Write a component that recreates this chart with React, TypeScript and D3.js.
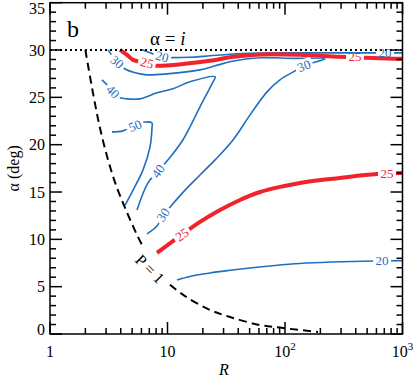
import React from 'react';
import * as d3 from 'd3';

type Pt = [number, number];

// axis ticks
const xMajor = [1, 10, 100, 1000];
const xLabels = [
  { v: 1, base: '1', exp: '' },
  { v: 10, base: '10', exp: '' },
  { v: 100, base: '10', exp: '2' },
  { v: 1000, base: '10', exp: '3' },
];
const yMajor = [0, 5, 10, 15, 20, 25, 30, 35];

// P = 1 curve (dashed), split where the label sits
const pUpper: Pt[] = [[2, 30], [2.32, 25.48], [2.66, 21.78], [3.12, 18.39], [3.64, 15.75], [4.43, 13.1], [5.5, 10.47], [6.19, 9.2]];
const pLower: Pt[] = [[10.5, 5.2], [14.1, 4.0], [23, 2.54], [34, 1.8], [61, 0.95], [96, 0.63], [191, 0.21]];

// contours [R, alpha]
const c20low: Pt[] = [[12.05, 5.71], [15.5, 6.08], [23, 6.45], [34, 6.73], [50.4, 6.98], [82.2, 7.24], [134, 7.45], [256, 7.61], [561, 7.72], [1000, 7.75]];
const c25low: Pt[] = [[8.14, 8.56], [12.8, 10.36], [18.9, 11.84], [28, 13.1], [41.4, 14.16], [61.3, 15.0], [90.6, 15.54], [134, 15.96], [294, 16.49], [607, 16.9], [1000, 17.0]];
const c20up: Pt[] = [[6.07, 30.02], [7.1, 29.7], [8.6, 29.35], [10.9, 29.2], [15.5, 29.23], [23, 29.39], [34, 29.55], [50, 29.65], [134, 29.7], [324, 29.7], [1000, 29.7]];
const c25up: Pt[] = [[3.94, 30.02], [4.52, 29.49], [5.09, 28.96], [6.56, 28.65], [8.14, 28.33], [14.1, 28.54], [23, 28.86], [34, 29.23], [50, 29.44], [74.5, 29.55], [134, 29.49], [294, 29.28], [480, 29.18], [1000, 29.07]];
const c30: Pt[] = [[3.12, 30.02], [3.44, 29.28], [3.72, 28.75], [4.35, 28.0], [5.29, 27.6], [6.69, 27.38], [9.9, 27.48], [18.9, 27.9], [25.4, 28.33], [37.5, 28.86], [61.3, 29.18], [117, 29.12], [219, 29.07], [173, 28.65], [142, 28.33], [126, 27.9], [90.6, 26.85], [70.3, 25.58], [50.4, 23.15], [36.1, 20.5], [25.4, 18.4], [18.9, 16.8], [14.1, 15.2], [10.5, 13.4], [9.15, 12.5], [8.14, 11.4], [6.69, 10.57]];
const c40: Pt[] = [[2.77, 26.85], [3.06, 26.32], [3.44, 25.6], [3.79, 25.05], [4.52, 24.84], [5.83, 24.84], [8.14, 25.48], [11.1, 25.9], [15.5, 26.64], [25.4, 27.17], [23.9, 26.43], [18.9, 24.0], [13.5, 20.5], [10.1, 18.4], [8.3, 17.2], [6.82, 15.96], [5.5, 13.1]];
const c50: Pt[] = [[3.37, 21.35], [4.18, 21.46], [5.29, 22.1], [6.44, 22.4], [7.38, 22.3], [7.38, 21.78], [7.1, 19.77], [6.19, 17.34], [5.09, 15.2], [4.35, 13.6]];

// contour labels: position, angle
const lab20low = [{ at: [670, 7.74] as Pt, a: 0 }];
const lab25low = [{ at: [13.3, 10.5] as Pt, a: -34 }, { at: [738, 17.0] as Pt, a: 0 }];
const lab20up = [{ at: [9.0, 29.3] as Pt, a: 15 }, { at: [710, 29.7] as Pt, a: 0 }];
const lab25up = [{ at: [6.69, 28.65] as Pt, a: 14 }, { at: [394, 29.28] as Pt, a: 0 }];
const lab30 = [{ at: [3.72, 28.75] as Pt, a: 40 }, { at: [145, 28.33] as Pt, a: -22 }, { at: [9.15, 12.6] as Pt, a: -55 }];
const lab40 = [{ at: [3.44, 25.6] as Pt, a: 45 }, { at: [8.3, 17.2] as Pt, a: -55 }];
const lab50 = [{ at: [5.29, 22.0] as Pt, a: -22 }];

const BLUE = '#1f6fc1';
const RED = '#f0222c';
const serif = { fontFamily: '"Liberation Serif", "Times New Roman", serif' };

export default function App() {
  const x = d3.scaleLog().domain([1, 1000]).range([50, 402.5]);
  const y = d3.scaleLinear().domain([0, 35]).range([334, 2.7]);
  const line = d3.line<Pt>().x(d => x(d[0])).y(d => y(d[1])).curve(d3.curveCatmullRom.alpha(0.5));
  const lineX = d3.line<Pt>().x(d => x(d[0])).y(d => y(d[1])).curve(d3.curveMonotoneX);
  const [x0, x1] = x.range();
  const [y0, y1] = y.range();

  const xMinor: number[] = [];
  [1, 10, 100].forEach(d => { for (let k = 2; k < 10; k++) xMinor.push(d * k); });
  const yMinor = d3.range(0, 36).filter(v => v % 5 !== 0);

  const contours = [
    { pts: c20low, color: BLUE, w: 1.6, text: '20', labels: lab20low, gen: lineX },
    { pts: c25low, color: RED, w: 4, text: '25', labels: lab25low, gen: lineX },
    { pts: c30, color: BLUE, w: 1.6, text: '30', labels: lab30, gen: line },
    { pts: c40, color: BLUE, w: 1.6, text: '40', labels: lab40, gen: line },
    { pts: c50, color: BLUE, w: 1.6, text: '50', labels: lab50, gen: line },
    { pts: c20up, color: BLUE, w: 1.6, text: '20', labels: lab20up, gen: lineX },
    { pts: c25up, color: RED, w: 4, text: '25', labels: lab25up, gen: lineX },
  ];

  return (
    <svg width={415} height={380} style={{ position: 'absolute', left: 0, top: 0, background: '#fff' }}>
      <defs>
        <clipPath id="plot">
          <rect x={x0} y={y1} width={x1 - x0} height={y0 - y1} />
        </clipPath>
        {contours.map((c, i) => (
          <mask id={'m' + i} key={i} maskUnits="userSpaceOnUse" x={0} y={0} width={415} height={380}>
            <rect x={0} y={0} width={415} height={380} fill="#fff" />
            {c.labels.map((l, j) => (
              <rect key={j} x={-9} y={-6.5} width={18} height={13} fill="#000"
                transform={`translate(${x(l.at[0])},${y(l.at[1])}) rotate(${l.a})`} />
            ))}
          </mask>
        ))}
      </defs>

      <g clipPath="url(#plot)">
        {contours.map((c, i) => (
          <path key={i} d={c.gen(c.pts) || ''} fill="none" stroke={c.color} strokeWidth={c.w} mask={`url(#m${i})`} />
        ))}
        <path d={line(pUpper) || ''} fill="none" stroke="#000" strokeWidth={2} strokeDasharray="8,5" />
        <path d={line(pLower) || ''} fill="none" stroke="#000" strokeWidth={2} strokeDasharray="8,5" />
        <line x1={x0} x2={x1} y1={y(30)} y2={y(30)} stroke="#000" strokeWidth={2} strokeDasharray="2,3" />
      </g>

      {contours.map((c, i) => c.labels.map((l, j) => (
        <text key={i + '-' + j} style={serif} fontSize={13} fill={c.color} textAnchor="middle" dominantBaseline="central"
          transform={`translate(${x(l.at[0])},${y(l.at[1])}) rotate(${l.a})`}>{c.text}</text>
      )))}

      <text style={serif} fontSize={16} textAnchor="middle" dominantBaseline="central"
        transform={`translate(${x(7.1)},${y(6.87)}) rotate(45)`}>P = 1</text>

      <text x={150} y={45} style={serif} fontSize={19}>α = <tspan fontStyle="italic">i</tspan></text>
      <text x={67} y={37} style={serif} fontSize={24}>b</text>

      {/* frame */}
      <rect x={x0} y={y1} width={x1 - x0} height={y0 - y1} fill="none" stroke="#000" strokeWidth={1.5} />

      {/* ticks on all four sides */}
      <g stroke="#000" strokeWidth={1.5}>
        {xMajor.map(v => (
          <g key={'xM' + v}>
            <line x1={x(v)} x2={x(v)} y1={y0} y2={y0 - 12} />
            <line x1={x(v)} x2={x(v)} y1={y1} y2={y1 + 12} />
          </g>
        ))}
        {xMinor.map(v => (
          <g key={'xm' + v}>
            <line x1={x(v)} x2={x(v)} y1={y0} y2={y0 - 6} />
            <line x1={x(v)} x2={x(v)} y1={y1} y2={y1 + 6} />
          </g>
        ))}
        {yMajor.map(v => (
          <g key={'yM' + v}>
            <line x1={x0} x2={x0 + 12} y1={y(v)} y2={y(v)} />
            <line x1={x1} x2={x1 - 12} y1={y(v)} y2={y(v)} />
          </g>
        ))}
        {yMinor.map(v => (
          <g key={'ym' + v}>
            <line x1={x0} x2={x0 + 6} y1={y(v)} y2={y(v)} />
            <line x1={x1} x2={x1 - 6} y1={y(v)} y2={y(v)} />
          </g>
        ))}
      </g>

      {xLabels.map(l => (
        <text key={'xl' + l.v} x={x(l.v)} y={357} style={serif} fontSize={16} textAnchor="middle">
          {l.base}{l.exp && <tspan fontSize={11} dy={-7}>{l.exp}</tspan>}
        </text>
      ))}
      {yMajor.map(v => (
        <text key={'yl' + v} x={45} y={Math.min(329, Math.max(8, y(v)))} style={serif} fontSize={16}
          textAnchor="end" dominantBaseline="central">{v}</text>
      ))}

      <text x={224} y={375} style={serif} fontSize={16} fontStyle="italic" textAnchor="middle">R</text>
      <text transform={`translate(19,${(y0 + y1) / 2}) rotate(-90)`} style={serif} fontSize={16} textAnchor="middle">α (deg)</text>
    </svg>
  );
}
